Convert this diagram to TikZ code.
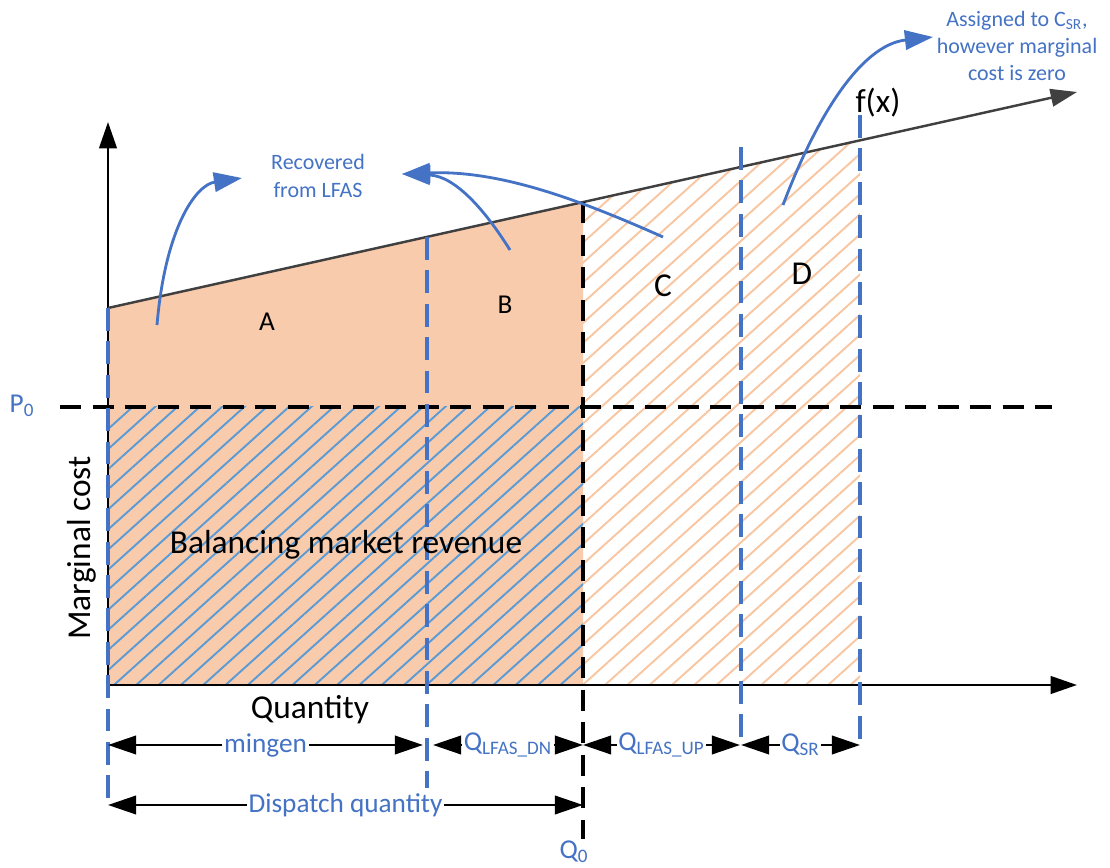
\documentclass[tikz,border=0pt]{standalone}
\usepackage{fontspec}
\setmainfont{Carlito}
\usetikzlibrary{calc}
\usetikzlibrary{arrows.meta}
\usetikzlibrary{patterns.meta}
\definecolor{lblblue}{HTML}{4472C4}
\definecolor{hatchblue}{HTML}{5B9BD5}
\definecolor{peach}{HTML}{F8CBAD}
\definecolor{curvegrey}{HTML}{404040}
\providecommand*{\pgfmathsetnewmacro}[2]{%
    \newcommand*{#1}{}% Error if already defined
    \pgfmathsetmacro{#1}{#2}%
}

\begin{document}
\begin{tikzpicture}[%
        x = 0.02cm,
        y = -0.02cm,
        line width = 1.4pt,
        declare function = {fy(\q) = 308 - (\q - 108)*0.22291;},
        axis/.style = {line width = 1.4pt, -{Triangle[length=15pt, width=10pt]}},
        bluedash/.style = {draw = lblblue, line width = 1.8pt, dash pattern = on 13pt off 6pt},
        blackdash/.style = {draw = black, line width = 2pt, dash pattern = on 12pt off 6.5pt},
        dimarrow/.style = {line width = 1.4pt, {Triangle[length=16pt, width=10.5pt]}-{Triangle[length=16pt, width=10.5pt]}},
        callout/.style = {draw = lblblue, line width = 1.6pt, -{Triangle[length=16pt, width=11pt]}},
        hatch/.style = {pattern = {Lines[angle=42, distance=8.5pt, line width=1.1pt]}},
        biglbl/.style = {font = \fontsize{19}{22}\selectfont},
        arealbl/.style = {font = \fontsize{15.5}{18}\selectfont},
        notelbl/.style = {text = lblblue, align = center, font = \fontsize{12.5}{15.5}\selectfont},
        dimlbl/.style = {text = lblblue, fill = white, inner sep = 1pt, font = \fontsize{15.5}{18}\selectfont},
        % smooth
        ]


\useasboundingbox (0,0) rectangle (1110,868);

\pgfmathsetnewmacro{\qmin}{427}
\pgfmathsetnewmacro{\qnull}{583}
\pgfmathsetnewmacro{\qup}{741}
\pgfmathsetnewmacro{\qsr}{860}
\pgfmathsetnewmacro{\pnull}{407}

\coordinate (O) at (108,685);
\coordinate (ytip) at (108,122);
\coordinate (xtip) at (1077,685);
\coordinate (f0) at (108,308);
\coordinate (f1) at (1077,92);
\coordinate (fq0) at (\qnull,{fy(\qnull)});
\coordinate (fsr) at (\qsr,{fy(\qsr)});

% areas
\fill[peach] (O) -- (f0) -- (fq0) -- (\qnull,685) -- cycle;
\path[hatch, pattern color = hatchblue]
    (108,\pnull) rectangle (\qnull,685);
\path[hatch, pattern color = peach!93!orange]
    (fq0) -- (fsr) -- (\qsr,685) -- (\qnull,685) -- cycle;

\draw[axis] (O) -- (ytip);
\draw[axis] (O) -- (xtip);
\draw[axis, draw = curvegrey] (f0) -- (f1);

\coordinate (p0l) at (60,\pnull);
\coordinate (p0r) at (1052,\pnull);
\draw[blackdash] (p0l) -- (p0r);

\foreach \XPOS/\YTOP/\YBOT in {108/308/805, \qmin/237/788, \qup/147/745, \qsr/115/745}{%
    \draw[bluedash] (\XPOS,\YTOP) -- (\XPOS,\YBOT);
    }
\draw[blackdash] (fq0) -- (\qnull,848);

% labels
\node (lA) [arealbl] at (267,322) {A};
\node (lB) [arealbl] at (505,305) {B};
\node (lC) [biglbl] at (663,286) {C};
\node (lD) [biglbl] at (802,274) {D};
\node (fx) [biglbl] at (878,103) {f(x)};
\node (rev) [biglbl] at (346,545) {Balancing market revenue};
\node (mc) [biglbl, rotate = 90] at (82,548) {Marginal cost};
\node (qty) [biglbl] at (310,710) {Quantity};
\node (P0) [dimlbl] at (22,406) {P\textsubscript{0}};
\node (Q0) [dimlbl] at (574,852) {Q\textsubscript{0}};

\node (rec) [notelbl] at (318,176) {Recovered\\from LFAS};
\node (asg) [notelbl] at (1017,46) {Assigned to C\textsubscript{SR},\\however marginal\\cost is zero};

% dimension arrows
\foreach \FROM/\TO/\YY/\NAME in {108/423/745/mingen, 433/\qnull/745/Q\textsubscript{LFAS\_DN},
        \qnull/740/745/Q\textsubscript{LFAS\_UP}, \qup/\qsr/745/Q\textsubscript{SR},
        108/\qnull/805/Dispatch quantity}{%
    \draw[dimarrow] (\FROM,\YY) -- (\TO,\YY) node[midway, dimlbl] {\NAME};
    }

% callouts
\coordinate (srcA) at (157,325);
\coordinate (srcB) at (510,250);
\coordinate (srcC) at (663,237);
\coordinate (srcD) at (783,205);
\coordinate (tipA) at (242,178);
\coordinate (tipBC) at (402,174);
\coordinate (tipD) at (933,37);

\draw[callout] (srcA) .. controls (165,230) and (195,185) .. (tipA);
\draw[callout] (srcB) .. controls (485,210) and (455,176) .. (tipBC);
\draw[callout] (srcC) .. controls (580,200) and (500,170) .. (tipBC);
\draw[callout] (srcD) .. controls (815,120) and (860,45) .. (tipD);

\end{tikzpicture}
\end{document}
